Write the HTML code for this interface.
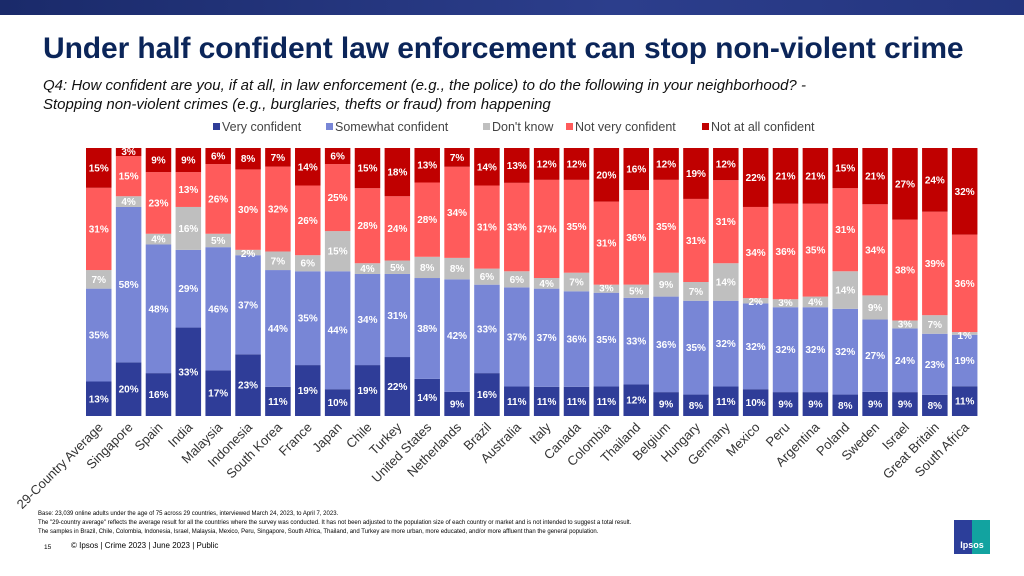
<!DOCTYPE html>
<html><head><meta charset="utf-8"><style>
body{margin:0;width:1024px;height:576px;overflow:hidden;background:#fff;font-family:"Liberation Sans",sans-serif;position:relative}
.band{position:absolute;left:0;top:0;width:1024px;height:15px;background:linear-gradient(90deg,#1a2a6a,#2c3e8c 60%,#24357f)}
h1{position:absolute;left:43px;top:32px;margin:0;font-size:30px;font-weight:bold;color:#0b2559;letter-spacing:-0.1px;white-space:nowrap}
.sub{position:absolute;left:43px;top:76px;font-size:15px;font-style:italic;color:#111;line-height:19px;white-space:nowrap}
.foot{position:absolute;left:38px;font-size:6px;color:#000;white-space:nowrap}
</style></head><body>
<div class="band"></div>
<h1>Under half confident law enforcement can stop non-violent crime</h1>
<div class="sub">Q4: How confident are you, if at all, in law enforcement (e.g., the police) to do the following in your neighborhood? -<br>Stopping non-violent crimes (e.g., burglaries, thefts or fraud) from happening</div>
<svg id="chart" width="1024" height="576" style="position:absolute;left:0;top:0"></svg>
<div class="foot" style="top:511px">Base: 23,039 online adults under the age of 75 across 29 countries, interviewed March 24, 2023, to April 7, 2023.</div>
<div class="foot" style="top:520px">The "29-country average" reflects the average result for all the countries where the survey was conducted. It has not been adjusted to the population size of each country or market and is not intended to suggest a total result.</div>
<div class="foot" style="top:529px">The samples in Brazil, Chile, Colombia, Indonesia, Israel, Malaysia, Mexico, Peru, Singapore, South Africa, Thailand, and Turkey are more urban, more educated, and/or more affluent than the general population.</div>
<div style="position:absolute;left:44px;top:544px;font-size:6.5px">15</div>
<div style="position:absolute;left:71px;top:541px;font-size:8px">© Ipsos | Crime 2023 | June 2023 | Public</div>
<div style="position:absolute;left:954px;top:520px;width:36px;height:34px;background:linear-gradient(90deg,#2c3e9a 50%,#12a3a0 50%);color:#fff;font-size:9px;font-weight:bold;text-align:center;line-height:50px">Ipsos</div>
<script>
const categories=["29-Country Average","Singapore","Spain","India","Malaysia","Indonesia","South Korea","France","Japan","Chile","Turkey","United States","Netherlands","Brazil","Australia","Italy","Canada","Colombia","Thailand","Belgium","Hungary","Germany","Mexico","Peru","Argentina","Poland","Sweden","Israel","Great Britain","South Africa"];
const veryConfident=[13,20,16,33,17,23,11,19,10,19,22,14,9,16,11,11,11,11,12,9,8,11,10,9,9,8,9,9,8,11];
const somewhatConfident=[35,58,48,29,46,37,44,35,44,34,31,38,42,33,37,37,36,35,33,36,35,32,32,32,32,32,27,24,23,19];
const dontKnow=[7,4,4,16,5,2,7,6,15,4,5,8,8,6,6,4,7,3,5,9,7,14,2,3,4,14,9,3,7,1];
const notVeryConfident=[31,15,23,13,26,30,32,26,25,28,24,28,34,31,33,37,35,31,36,35,31,31,34,36,35,31,34,38,39,36];
const notAtAllConfident=[15,3,9,9,6,8,7,14,6,15,18,13,7,14,13,12,12,20,16,12,19,12,22,21,21,15,21,27,24,32];
const seriesNames=["Very confident","Somewhat confident","Don't know","Not very confident","Not at all confident"];
const series=[veryConfident,somewhatConfident,dontKnow,notVeryConfident,notAtAllConfident];
const colors=["#2f3d98","#7886d6","#bfbfbf","#ff5b5b","#c00000"];
const NS="http://www.w3.org/2000/svg",svg=document.getElementById("chart");
const x0=86,step=29.86,bw=25.5,yB=416,yT=148;
function xPos(i){return x0+i*step;}
function mk(t,a){const e=document.createElementNS(NS,t);for(const k in a)e.setAttribute(k,a[k]);svg.appendChild(e);return e;}
categories.forEach((c,i)=>{
  let total=0;series.forEach(s=>total+=s[i]);
  const pxPer=(yB-yT)/total;
  let y=yB;
  series.forEach((s,j)=>{
    const h=s[i]*pxPer;y-=h;
    const r=mk("rect",{x:xPos(i),y:y,width:bw,height:h,fill:colors[j]});
    
    
    let ty=y+h/2+3.5;
    if(h<10)ty=y+7;
    const t=mk("text",{x:xPos(i)+bw/2,y:ty,"text-anchor":"middle","font-size":"10","font-weight":"bold",fill:"#fff"});
    t.textContent=s[i]+"%";
    
    
  });
  const cx=xPos(i)+bw/2+5,cy=428;
  const l=mk("text",{x:cx,y:cy,"text-anchor":"end","font-size":"13",fill:"#333",transform:`rotate(-45 ${cx} ${cy})`});
  l.textContent=c;
  
  
});
const legX=[213,326,483,566,702];
seriesNames.forEach((n,j)=>{
  const r=mk("rect",{x:legX[j],y:123,width:7,height:7,fill:colors[j]});
  
  
  const t=mk("text",{x:legX[j]+9,y:131,"font-size":"12.5",fill:"#444"});
  t.textContent=n;
  
  
});
</script>
</body></html>
